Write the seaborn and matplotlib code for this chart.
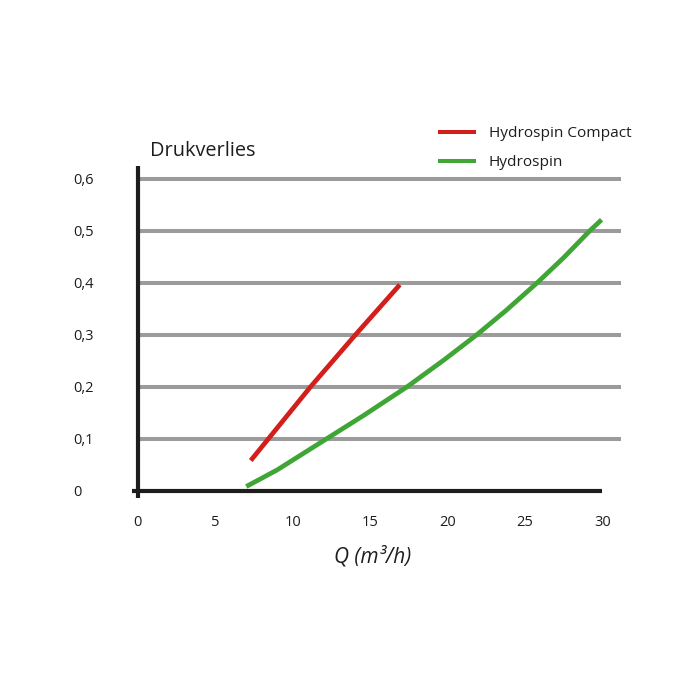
import matplotlib
matplotlib.use("Agg")
import matplotlib.pyplot as plt
import seaborn as sns
import pandas as pd

# data
compact_q = [7.29, 11.16, 14.06, 16.92]
compact_dp = [0.058, 0.20, 0.30, 0.396]

hydro_q = [7.0, 9.0, 12.2, 14.6, 17.4, 19.8, 21.9, 23.8, 25.8, 27.5, 29.2, 29.95]
hydro_dp = [0.008, 0.040, 0.10, 0.145, 0.20, 0.252, 0.30, 0.347, 0.40, 0.448, 0.50, 0.521]

series_names = ["Hydrospin Compact", "Hydrospin"]
series_colors = ["#d21f1c", "#3fa535"]

x_ticks = [0, 5, 10, 15, 20, 25, 30]
y_ticks = [0, 0.1, 0.2, 0.3, 0.4, 0.5, 0.6]
y_labels = ["0", "0,1", "0,2", "0,3", "0,4", "0,5", "0,6"]

df = pd.concat([
    pd.DataFrame({"Q": compact_q, "dp": compact_dp, "serie": series_names[0]}),
    pd.DataFrame({"Q": hydro_q, "dp": hydro_dp, "serie": series_names[1]}),
])

sns.set_style("white")
plt.rcParams["font.family"] = ["Open Sans", "DejaVu Sans"]

fig = plt.figure(figsize=(7, 7), dpi=100)
ax = fig.add_axes([0.197, 0.289, 0.690, 0.474])

for y in y_ticks[1:]:
    ax.axhline(y, color="#9b9b9b", lw=2.9, zorder=1)

sns.lineplot(data=df, x="Q", y="dp", hue="serie", palette=series_colors,
             hue_order=series_names, lw=3.4, ax=ax, zorder=3, sort=False,
             solid_capstyle="butt", solid_joinstyle="round")

ax.set_xlim(0, 31.2)
ax.set_ylim(-0.0135, 0.6245)

for s in ["top", "right"]:
    ax.spines[s].set_visible(False)
ax.spines["left"].set_position(("data", 0))
ax.spines["bottom"].set_position(("data", 0))
ax.spines["bottom"].set_bounds(-0.4, 30)
for s in ["left", "bottom"]:
    ax.spines[s].set_color("#1d1d1b")
    ax.spines[s].set_linewidth(3)
    ax.spines[s].set_zorder(4)
    ax.spines[s].set_capstyle("butt")

ax.set_xticks(x_ticks)
ax.set_xticklabels([str(v) for v in x_ticks])
ax.set_yticks(y_ticks)
ax.set_yticklabels(y_labels, ha="left")
ax.tick_params(axis="x", direction="out", length=6.5, width=3, color="#1d1d1b",
               labelsize=10.5, pad=11, labelcolor="#1d1d1b")
ax.tick_params(axis="y", direction="out", length=7.5, width=3, color="#1d1d1b",
               labelsize=10.5, pad=39, labelcolor="#1d1d1b")
ax.xaxis.get_major_ticks()[0].tick1line.set_visible(False)

ax.set_xlabel("Q (m³/h)", fontsize=15, style="italic", color="#1d1d1b", va="center")
ax.xaxis.set_label_coords(0.4855, -0.179)
ax.set_ylabel("")
ax.text(0.025, 1.046, "Drukverlies", transform=ax.transAxes, fontsize=14.3,
        color="#1d1d1b", va="center")

leg = ax.legend(loc="upper left", bbox_to_anchor=(0.621, 1.119), frameon=False,
                fontsize=11.1, handlelength=2.5, handletextpad=0.8, labelspacing=0.9,
                borderaxespad=0, borderpad=0)
for line in leg.get_lines():
    line.set_linewidth(2.9)
    line.set_solid_capstyle("butt")
for t in leg.get_texts():
    t.set_color("#1d1d1b")

fig.savefig("out.png", dpi=100, facecolor="white")
